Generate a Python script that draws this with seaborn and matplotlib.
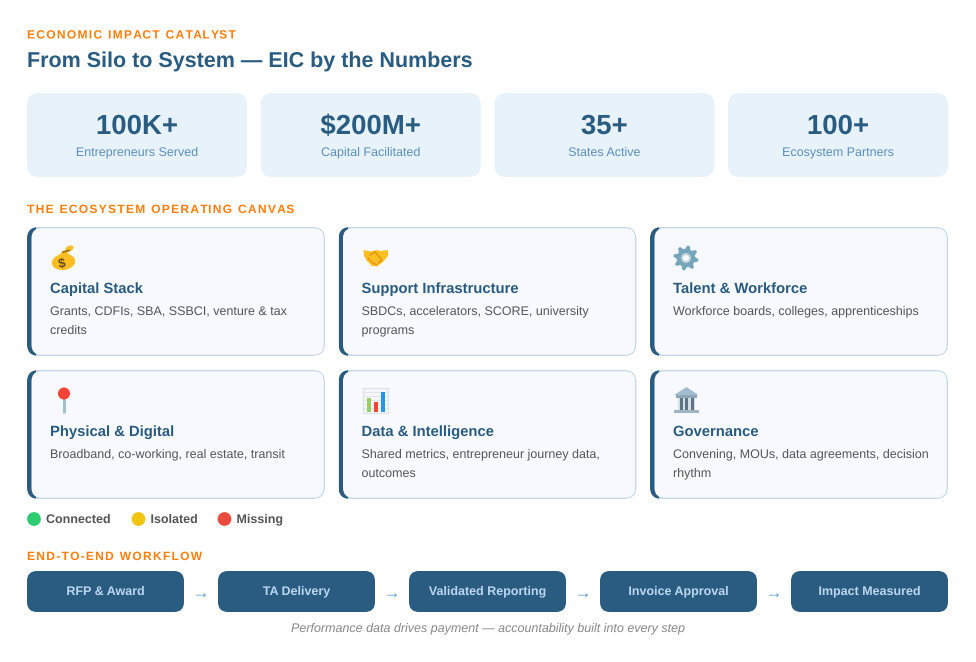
import matplotlib
matplotlib.use("Agg")
import numpy as np
import matplotlib.pyplot as plt
import matplotlib.text as mtext
from matplotlib.font_manager import FontProperties
from matplotlib.patches import FancyBboxPatch, Circle, Ellipse, Polygon, Rectangle, PathPatch
from matplotlib.textpath import TextPath
from matplotlib.transforms import Affine2D
import pandas as pd
import seaborn as sns

# ---------- content ----------
eyebrow = "ECONOMIC IMPACT CATALYST"
title = "From Silo to System \u2014 EIC by the Numbers"
stat_values = ["100K+", "$200M+", "35+", "100+"]
stat_labels = ["Entrepreneurs Served", "Capital Facilitated", "States Active", "Ecosystem Partners"]
canvas_header = "THE ECOSYSTEM OPERATING CANVAS"
card_titles = ["Capital Stack", "Support Infrastructure", "Talent & Workforce",
               "Physical & Digital", "Data & Intelligence", "Governance"]
card_lines = [["Grants, CDFIs, SBA, SSBCI, venture & tax", "credits"],
              ["SBDCs, accelerators, SCORE, university", "programs"],
              ["Workforce boards, colleges, apprenticeships"],
              ["Broadband, co-working, real estate, transit"],
              ["Shared metrics, entrepreneur journey data,", "outcomes"],
              ["Convening, MOUs, data agreements, decision", "rhythm"]]
legend_names = ["Connected", "Isolated", "Missing"]
legend_colors = ["#2ecc71", "#f1c40f", "#e74c3c"]
workflow_header = "END-TO-END WORKFLOW"
workflow_steps = ["RFP & Award", "TA Delivery", "Validated Reporting", "Invoice Approval", "Impact Measured"]
caption = "Performance data drives payment \u2014 accountability built into every step"
icon_bar_heights = [14, 10, 20]

# ---------- style ----------
NAVY = "#2a5c82"
ORANGE = "#ff7f0e"
FONT = "Liberation Sans"

sns.set_theme(style="white")
plt.rcParams["font.family"] = [FONT, "DejaVu Sans"]
plt.rcParams["text.hinting"] = "no_hinting"

fig = plt.figure(figsize=(9.76, 6.62), dpi=100, facecolor="white")
ax = fig.add_axes([0, 0, 1, 1])
ax.set_xlim(0, 976)
ax.set_ylim(662, 0)
ax.axis("off")


class SmoothText(mtext.Text):
    """One text artist with an exact baseline and optional CSS-like letter spacing."""
    def __init__(self, *a, tracking=0.0, **k):
        super().__init__(*a, **k)
        self._tracking = tracking

    def draw(self, renderer):
        s = self.get_text()
        x, y = self.get_transform().transform(self.get_position())
        y = renderer.height - y
        gc = renderer.new_gc()
        gc.set_foreground(self.get_color())
        gc.set_antialiased(True)
        gc.set_snap(False)
        fp = self.get_fontproperties()
        if self._tracking:
            for i, ch in enumerate(s):
                w = renderer.get_text_width_height_descent(s[:i], fp, False)[0] if i else 0
                if ch != " ":
                    renderer._draw_text_as_path(gc, x + w + i * self._tracking, y, ch, fp, 0, False)
        else:
            w = renderer.get_text_width_height_descent(s, fp, False)[0]
            shift = {"left": 0, "center": w / 2, "right": w}[self.get_ha()]
            renderer._draw_text_as_path(gc, x - shift, y, s, fp, 0, False)
        gc.restore()


def T(x, y, s, px, color, weight="normal", ha="left", style="normal", tracking=0.0):
    fp = FontProperties(family=FONT, weight=weight, style=style, size=px * 0.72)
    t = SmoothText(x, y, s, color=color, fontproperties=fp, ha=ha, va="baseline",
                   tracking=tracking, zorder=5)
    ax.add_artist(t)
    return t


def header(x, y, s):
    T(x, y, s, 12, ORANGE, "bold", tracking=1.3)


def rbox(x0, y0, x1, y1, r, fc, ec="none", lw=0, z=1):
    p = FancyBboxPatch((x0 + r, y0 + r), x1 - x0 - 2 * r, y1 - y0 - 2 * r,
                       boxstyle=f"round,pad={r},rounding_size={r}",
                       fc=fc, ec=ec, lw=lw, zorder=z)
    ax.add_patch(p)
    return p


# ---------- icons ----------
def icon_bag():
    gold = "#fbbf24"
    ax.add_patch(Ellipse((63.5, 262), 23.5, 16, angle=-8, fc=gold, ec="none", zorder=3))
    ax.add_patch(Polygon([(55, 259), (63, 251), (67, 251.5), (72, 259)], fc=gold, ec="none", zorder=3))
    ax.add_patch(Ellipse((69.5, 248.5), 8.5, 5.5, angle=-25, fc=gold, ec="none", zorder=3))
    ax.plot([63, 69], [252, 250.5], color="#a9740f", lw=1.4, zorder=4)
    tp = TextPath((0, 0), "$", size=13, prop=FontProperties(family=FONT, weight="bold"))
    tr = Affine2D().scale(1, -1).rotate_deg(-10).translate(59, 268) + ax.transData
    ax.add_patch(PathPatch(tp, transform=tr, fc="#6d4c22", ec="none", zorder=4))


def icon_hands():
    ax.add_patch(Polygon([(363.5, 250), (371, 251.5), (376, 250), (381, 251), (388, 250), (388, 256),
                          (383, 262), (377, 266.5), (372, 266), (367, 261), (364, 256)],
                         fc="#fbbf24", ec="none", zorder=3))
    ax.plot([370, 375, 382, 378], [255, 252, 260, 263], color="#e08a00", lw=0.8, zorder=4)
    ax.plot([368, 373, 377], [258, 263, 265], color="#e08a00", lw=0.7, zorder=4)


def icon_gear():
    cx, cy, teeth = 686, 258, 8
    ang = np.linspace(0, 2 * np.pi, teeth * 4, endpoint=False) + np.pi / teeth / 4
    rad = np.tile([12.5, 12.5, 9.2, 9.2], teeth)
    ax.add_patch(Polygon(np.c_[cx + rad * np.cos(ang), cy + rad * np.sin(ang)],
                         fc="#74a5bb", ec="none", zorder=3))
    ax.add_patch(Circle((cx, cy), 5, fc="#c4d3da", ec="none", zorder=4))
    ax.add_patch(Circle((cx, cy), 3, fc="#f7f9fe", ec="none", zorder=4))


def icon_pin():
    ax.plot([64, 64], [398, 413], color="#9dc3cf", lw=2.2, zorder=3, solid_capstyle="butt")
    ax.add_patch(Circle((64, 393.5), 6, fc="#f44336", ec="none", zorder=4))


def icon_chart():
    ax.add_patch(Rectangle((363, 388), 25, 25, fc="#f4f6f8", ec="#dde3e8", lw=0.9, zorder=3))
    for gy in range(392, 412, 4):
        ax.plot([364, 387], [gy, gy], color="#e2e6ea", lw=0.8, zorder=3)
    for i, (h, c) in enumerate(zip(icon_bar_heights, ["#9ccc65", "#f44336", "#2196f3"])):
        ax.add_patch(Rectangle((367 + 7 * i, 412 - h), 4, h, fc=c, ec="none", zorder=4))


def icon_bank():
    ax.add_patch(Polygon([(674, 395), (686.5, 387), (698.5, 395)], fc="#a3bdd0", ec="none", zorder=3))
    ax.add_patch(Rectangle((676, 395), 21, 3, fc="#8ea6b8", ec="none", zorder=3))
    ax.add_patch(Rectangle((678, 398), 17, 12, fc="#d5dfe7", ec="none", zorder=3))
    for cx in (679.5, 685, 690.5):
        ax.add_patch(Rectangle((cx, 398), 3.3, 11.5, fc="#5f7485", ec="none", zorder=4))
    ax.add_patch(Rectangle((674, 409.5), 24.5, 3.5, fc="#9db4c6", ec="none", zorder=3))


icons = [icon_bag, icon_hands, icon_gear, icon_pin, icon_chart, icon_bank]

# ---------- header ----------
header(27, 38.5, eyebrow)
T(27, 67, title, 21.5, NAVY, "bold")

# ---------- stat cards ----------
stat_x = [27, 260.7, 494.3, 728]
for x, v, l in zip(stat_x, stat_values, stat_labels):
    rbox(x, 93, x + 220, 177, 12, "#e8f2fb")
    T(x + 110, 134, v, 27.6, NAVY, "bold", ha="center")
    T(x + 110, 156, l, 12.5, "#5b8fbe", ha="center")

# ---------- canvas cards ----------
header(27, 213, canvas_header)
col_x = [27, 338.5, 650]
row_y = [227, 370]
CW, CH = 298, 129
for i, (t, lines) in enumerate(zip(card_titles, card_lines)):
    x, y = col_x[i % 3], row_y[i // 3]
    rbox(x + .2, y + .2, x + CW - .2, y + CH - .2, 12, "#b5cee3", z=1)
    dark = rbox(x, y, x + CW, y + CH, 12, NAVY, z=1.1)
    dark.set_clip_path(Rectangle((x, y), 9, CH, transform=ax.transData))
    rbox(x + 4.5, y + 1.2, x + CW - 1.2, y + CH - 1.2, 10, "#f7f9fe", z=1.2)
    T(x + 23, y + 66, t, 14.8, NAVY, "bold")
    for j, line in enumerate(lines):
        T(x + 23, y + 88 + 19 * j, line, 12.5, "#555555")
    icons[i]()

# ---------- legend ----------
legend_x = [34, 138.5, 224.5]
legend_df = pd.DataFrame({"x": legend_x, "y": [519] * 3, "status": legend_names})
sns.scatterplot(data=legend_df, x="x", y="y", hue="status", palette=legend_colors, s=98,
                linewidth=0, legend=False, ax=ax, zorder=3, clip_on=False)
ax.set_xlabel("")
ax.set_ylabel("")
ax.set_xlim(0, 976)
ax.set_ylim(662, 0)
for x, n in zip(legend_x, legend_names):
    T(x + 12, 523, n, 12.5, "#555555", "bold")

# ---------- workflow ----------
header(27, 560, workflow_header)
flow_x = [27, 218, 409, 600, 791]
for i, (x, s) in enumerate(zip(flow_x, workflow_steps)):
    rbox(x, 571, x + 157, 612, 10, NAVY)
    T(x + 78.5, 595, s, 12.5, "#bcd6ee", "bold", ha="center")
    if i < 4:
        T(x + 174, 598, "\u2192", 17, "#5b9bd5", ha="center")
T(488, 632, caption, 12.5, "#888888", style="italic", ha="center")

fig.savefig("out.png", dpi=100, facecolor="white")
